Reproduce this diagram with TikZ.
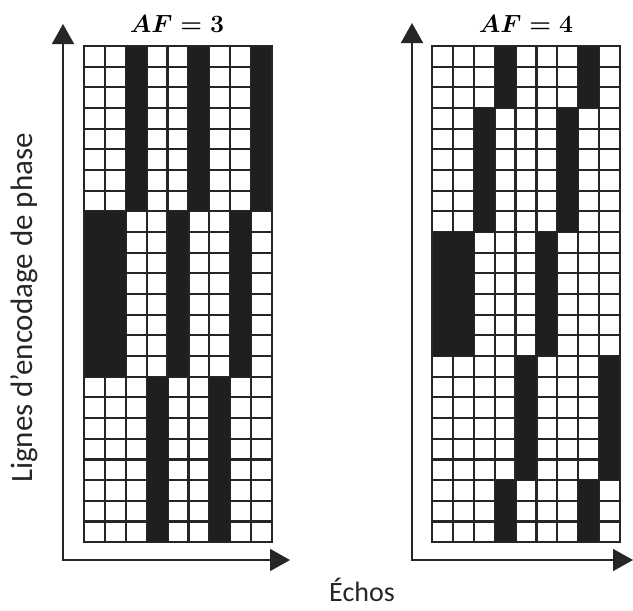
\documentclass[tikz,border=0pt]{standalone}
\usepackage{fontspec}
\usepackage{amsmath}
\newfontfamily\labelfont{Carlito}
\usetikzlibrary{arrows.meta}
\tikzset{
  cellbox/.style={draw=black!85, line width=2.2pt, fill=white},
  axisline/.style={line width=1.7pt, black!85, {Triangle[length=20pt,width=22pt]}-{Triangle[length=20pt,width=22pt]}},
  ylabelstyle/.style={font=\labelfont\fontsize{31}{35}\selectfont, text=black!85, inner sep=0pt},
  xlabelstyle/.style={font=\labelfont\fontsize{28}{32}\selectfont, text=black!85, inner sep=0pt},
  titlelabel/.style={font=\fontsize{23}{27}\selectfont\boldmath, inner sep=0pt},
}
\newcommand{\cw}{20.89}
\newcommand{\chh}{20.67}
\newcommand{\mygrid}[3]{%
  \foreach \r in {0,...,23}{\foreach \c in {0,...,8}{%
    \draw[cellbox] ({#1+\c*\cw},{#2+\r*\chh}) rectangle ++(\cw,\chh);}}%
  \foreach \ra/\rb/\cols in {#3}{%
    \foreach \c in \cols {%
      \fill[black!88] ({#1+\c*\cw},{#2+\ra*\chh}) rectangle ({#1+(\c+1)*\cw},{#2+(\rb+1)*\chh});}}%
  \draw[black!85, line width=2.2pt] (#1,#2) rectangle ({#1+9*\cw},{#2+24*\chh});
}
\begin{document}
\begin{tikzpicture}[x=1pt,y=-1pt]
\useasboundingbox (0,0) rectangle (633,611);
% grids
\mygrid{84}{46}{0/7/{2,5,8}, 8/15/{0,1,4,7}, 16/23/{3,6}}
\mygrid{432}{46}{0/2/{3,7}, 3/8/{2,6}, 9/14/{0,1,5}, 15/20/{4,8}, 21/23/{3,7}}
% axes
\coordinate (ltop) at (63,24);
\coordinate (lcorner) at (63,560);
\coordinate (lright) at (290,560);
\coordinate (rtop) at (412,23);
\coordinate (rcorner) at (412,560);
\coordinate (rright) at (633,560);
\draw[axisline] (ltop) -- (lcorner) -- (lright);
\draw[axisline] (rtop) -- (rcorner) -- (rright);
% titles
\node[titlelabel] (t3) at (177,24) {$AF = 3$};
\node[titlelabel] (t4) at (526,24) {$AF = 4$};
% axis labels
\node[ylabelstyle, rotate=90] (ylab) at (24,308) {Lignes d’encodage de phase};
\node[xlabelstyle] (xlab) at (362,590) {Échos};
\end{tikzpicture}
\end{document}
